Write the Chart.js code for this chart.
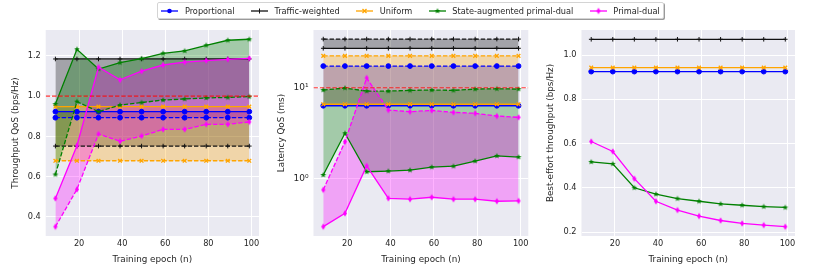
<!DOCTYPE html>
<html>
<head>
<meta charset="utf-8">
<script src="https://cdn.jsdelivr.net/npm/chart.js@4.4.0/dist/chart.umd.min.js"></script>
<style>
html, body { margin: 0; padding: 0; background: #fff; }
body { width: 830px; height: 277px; position: relative; overflow: hidden; font-family: "DejaVu Sans"; }
canvas.panel { position: absolute; top: 0; }
#legend {
    position: absolute; left: 157px; top: 2px; height: 17px;
    padding: 0 3.3px; box-sizing: border-box;
    display: flex; align-items: center;
    background: #fff; border: 1px solid #d4d4d4; border-radius: 2px;
    box-shadow: 1px 1px 0 #9a9a9a;
    font-size: 8.2px; color: #262626; white-space: nowrap; z-index: 2;
}
#legend .item { display: flex; align-items: center; margin-right: 16.4px; }
#legend .item:last-child { margin-right: 0; }
#legend canvas { margin-right: 6.6px; }
</style>
</head>
<body>
<div id="legend"></div>
<canvas class="panel" id="qos_thr" width="270" height="277" style="left:0px"></canvas>
<canvas class="panel" id="qos_lat" width="270" height="277" style="left:270px"></canvas>
<canvas class="panel" id="be_thr" width="290" height="277" style="left:540px"></canvas>
<script>
// Training curves, three panels

var epochs = [9, 19, 29, 39, 49, 59, 69, 79, 89, 99];
var xTicks = [20, 40, 60, 80, 100];
var methods = ["Proportional", "Traffic-weighted", "Uniform", "State-augmented primal-dual", "Primal-dual"];

// throughput QoS (bps/Hz): solid line / dashed line per method
var thrPropSolid = [0.923, 0.923, 0.923, 0.923, 0.923, 0.923, 0.923, 0.923, 0.923, 0.923];
var thrPropDash = [0.893, 0.893, 0.893, 0.893, 0.893, 0.893, 0.893, 0.893, 0.893, 0.893];
var thrTrafSolid = [1.185, 1.185, 1.185, 1.185, 1.185, 1.185, 1.185, 1.185, 1.185, 1.185];
var thrTrafDash = [0.752, 0.752, 0.752, 0.752, 0.752, 0.752, 0.752, 0.752, 0.752, 0.752];
var thrUnifSolid = [0.948, 0.948, 0.948, 0.948, 0.948, 0.948, 0.948, 0.948, 0.948, 0.948];
var thrUnifDash = [0.679, 0.679, 0.679, 0.679, 0.679, 0.679, 0.679, 0.679, 0.679, 0.679];
var thrStateSolid = [0.961, 1.233, 1.135, 1.167, 1.187, 1.213, 1.225, 1.253, 1.278, 1.283];
var thrStateDash = [0.611, 0.973, 0.923, 0.956, 0.968, 0.981, 0.986, 0.991, 0.994, 0.998];
var thrPdSolid = [0.492, 0.754, 1.144, 1.081, 1.124, 1.155, 1.169, 1.177, 1.183, 1.188];
var thrPdDash = [0.351, 0.537, 0.812, 0.776, 0.802, 0.835, 0.835, 0.86, 0.86, 0.872];
var thrTarget = 1.0;
var thrTicks = [0.4, 0.6, 0.8, 1.0, 1.2];

// latency QoS (ms)
var latPropSolid = [6.35, 6.35, 6.35, 6.35, 6.35, 6.35, 6.35, 6.35, 6.35, 6.35];
var latPropDash = [17.3, 17.3, 17.3, 17.3, 17.3, 17.3, 17.3, 17.3, 17.3, 17.3];
var latTrafSolid = [27.1, 27.1, 27.1, 27.1, 27.1, 27.1, 27.1, 27.1, 27.1, 27.1];
var latTrafDash = [34.2, 34.2, 34.2, 34.2, 34.2, 34.2, 34.2, 34.2, 34.2, 34.2];
var latUnifSolid = [6.6, 6.6, 6.6, 6.6, 6.6, 6.6, 6.6, 6.6, 6.6, 6.6];
var latUnifDash = [22.4, 22.4, 22.4, 22.4, 22.4, 22.4, 22.4, 22.4, 22.4, 22.4];
var latStateSolid = [1.106, 3.17, 1.2, 1.22, 1.25, 1.35, 1.38, 1.57, 1.79, 1.74];
var latStateDash = [9.44, 9.93, 9.2, 9.2, 9.37, 9.44, 9.37, 9.67, 9.75, 9.67];
var latPdSolid = [0.3, 0.42, 1.39, 0.614, 0.6, 0.63, 0.6, 0.6, 0.57, 0.575];
var latPdDash = [0.76, 2.56, 12.8, 5.7, 5.46, 5.65, 5.37, 5.25, 4.9, 4.74];
var latTarget = 10;
var latTicks = [1, 10];

// best-effort throughput (bps/Hz)
var bePropData = [0.925, 0.925, 0.925, 0.925, 0.925, 0.925, 0.925, 0.925, 0.925, 0.925];
var beTrafData = [1.071, 1.071, 1.071, 1.071, 1.071, 1.071, 1.071, 1.071, 1.071, 1.071];
var beUnifData = [0.943, 0.943, 0.943, 0.943, 0.943, 0.943, 0.943, 0.943, 0.943, 0.943];
var beStateData = [0.517, 0.508, 0.4, 0.371, 0.351, 0.339, 0.327, 0.321, 0.315, 0.311];
var bePdData = [0.609, 0.564, 0.441, 0.339, 0.299, 0.272, 0.252, 0.239, 0.231, 0.224];
var beTicks = [0.2, 0.4, 0.6, 0.8, 1.0];

var X_MIN = 4.5, X_MAX = 103.5;
var FONT = "DejaVu Sans";
var TXT = "#262626";
var DASH = [4.4, 1.9];

function starMarker(color, r) {
    var c = document.createElement("canvas");
    var s = Math.ceil(r * 2 + 2);
    c.width = s; c.height = s;
    var g = c.getContext("2d");
    g.fillStyle = color;
    g.beginPath();
    for (var i = 0; i < 10; i++) {
        var rr = i % 2 ? r * 0.45 : r;
        var a = -Math.PI / 2 + i * Math.PI / 5;
        g.lineTo(s / 2 + rr * Math.cos(a), s / 2 + rr * Math.sin(a));
    }
    g.closePath();
    g.fill();
    return c;
}

function diamondMarker(color, w, h) {
    var c = document.createElement("canvas");
    c.width = Math.ceil(w + 2); c.height = Math.ceil(h + 2);
    var g = c.getContext("2d");
    var cx = c.width / 2, cy = c.height / 2;
    g.fillStyle = color;
    g.beginPath();
    g.moveTo(cx, cy - h / 2);
    g.lineTo(cx + w / 2, cy);
    g.lineTo(cx, cy + h / 2);
    g.lineTo(cx - w / 2, cy);
    g.closePath();
    g.fill();
    return c;
}

var styles = [
    { color: "#0000ff", fill: "rgba(0,0,255,0.3)", marker: "circle", radius: 2.4, bw: 1 },
    { color: "#111111", fill: "rgba(0,0,0,0.3)", marker: "cross", radius: 2.3, bw: 1 },
    { color: "#ffa500", fill: "rgba(255,165,0,0.3)", marker: "crossRot", radius: 2.6, bw: 1.3 },
    { color: "#008000", fill: "rgba(0,128,0,0.3)", marker: starMarker("#008000", 3), radius: 3, bw: 1 },
    { color: "#ff00ff", fill: "rgba(255,0,255,0.3)", marker: diamondMarker("#ff00ff", 4, 6.5), radius: 3, bw: 1 }
];

function pts(ys) {
    return epochs.map(function (x, i) { return { x: x, y: ys[i] }; });
}

function line(k, ys, dashed) {
    var st = styles[k];
    return {
        label: methods[k],
        data: pts(ys),
        borderColor: st.color,
        backgroundColor: st.color,
        borderWidth: 1.3,
        borderDash: dashed ? DASH : [],
        pointStyle: st.marker,
        pointRadius: st.radius,
        pointBorderWidth: st.bw,
        pointBackgroundColor: st.color,
        pointBorderColor: st.color,
        fill: false,
        tension: 0,
        order: 5 - k
    };
}

function bandSets(pairs) {
    var out = [];
    pairs.forEach(function (p, k) {
        var a = line(k, p[0], false);
        a.fill = { target: out.length + 1, above: styles[k].fill, below: styles[k].fill };
        out.push(a);
        out.push(line(k, p[1], true));
    });
    return out;
}

function threshold(v) {
    return {
        label: "target",
        data: [{ x: X_MIN, y: v }, { x: X_MAX, y: v }],
        borderColor: "rgba(255,0,0,0.8)",
        borderWidth: 1.2,
        borderDash: DASH,
        pointRadius: 0,
        fill: false,
        order: 0
    };
}

var bgPlugin = {
    id: "bg",
    beforeDraw: function (chart) {
        var a = chart.chartArea, ctx = chart.ctx;
        ctx.save();
        ctx.fillStyle = "#eaeaf2";
        ctx.fillRect(a.left, a.top, a.right - a.left, a.bottom - a.top);
        ctx.restore();
    }
};

function xScale() {
    return {
        type: "linear",
        min: X_MIN,
        max: X_MAX,
        afterBuildTicks: function (s) { s.ticks = xTicks.map(function (v) { return { value: v }; }); },
        afterFit: function (s) { s.height = 41; },
        grid: { color: "#ffffff", lineWidth: 1, drawTicks: false },
        border: { display: false },
        ticks: { color: TXT, font: { family: FONT, size: 8.2 }, padding: 3, maxRotation: 0, autoSkip: false },
        title: { display: true, text: "Training epoch (n)", color: TXT, font: { family: FONT, size: 8.8 }, padding: { top: 0, bottom: 12.4 } }
    };
}

function yScale(opts) {
    return {
        type: opts.type || "linear",
        min: opts.min,
        max: opts.max,
        afterBuildTicks: function (s) { s.ticks = opts.ticks.map(function (v) { return { value: v }; }); },
        afterFit: function (s) { s.width = opts.width; },
        grid: { color: "#ffffff", lineWidth: 1, drawTicks: false },
        border: { display: false },
        ticks: { color: TXT, font: { family: FONT, size: opts.tickSize || 8.2 }, padding: 5, autoSkip: false, callback: opts.fmt },
        title: { display: true, text: opts.title, color: TXT, font: { family: FONT, size: 8.8 }, padding: { top: opts.titlePad, bottom: 0 } }
    };
}

function makeChart(id, datasets, y, padRight) {
    return new Chart(id, {
        type: "line",
        data: { datasets: datasets },
        options: {
            responsive: false,
            animation: false,
            events: [],
            parsing: false,
            layout: { padding: { top: 30, left: 0, right: padRight, bottom: 0 } },
            scales: { x: xScale(), y: yScale(y) },
            plugins: {
                legend: { display: false },
                tooltip: { enabled: false },
                filler: { drawTime: "beforeDatasetsDraw" }
            }
        },
        plugins: [bgPlugin]
    });
}

var fmt1 = function (v) { return Number(v).toFixed(1); };

var thrSets = bandSets([
    [thrPropSolid, thrPropDash],
    [thrTrafSolid, thrTrafDash],
    [thrUnifSolid, thrUnifDash],
    [thrStateSolid, thrStateDash],
    [thrPdSolid, thrPdDash]
]);
thrSets.push(threshold(thrTarget));
makeChart("qos_thr", thrSets, {
    min: 0.305, max: 1.329, ticks: thrTicks, width: 45.7, fmt: fmt1,
    title: "Throughput QoS (bps/Hz)", titlePad: 10.7
}, 11);

var latSets = bandSets([
    [latPropSolid, latPropDash],
    [latTrafSolid, latTrafDash],
    [latUnifSolid, latUnifDash],
    [latStateSolid, latStateDash],
    [latPdSolid, latPdDash]
]);
latSets.push(threshold(latTarget));
makeChart("qos_lat", latSets, {
    type: "logarithmic", min: 0.237, max: 43, ticks: latTicks, width: 43.5, tickSize: 9,
    fmt: function (v) { return v === 1 ? "10\u2070" : "10\u00b9"; },
    title: "Latency QoS (ms)", titlePad: 6.4
}, 11.7);

var beSets = [
    line(0, bePropData, false),
    line(1, beTrafData, false),
    line(2, beUnifData, false),
    line(3, beStateData, false),
    line(4, bePdData, false)
];
makeChart("be_thr", beSets, {
    min: 0.182, max: 1.113, ticks: beTicks, width: 41.5, fmt: fmt1,
    title: "Best-effort throughput (bps/Hz)", titlePad: 5.7
}, 35);

// legend
var legend = document.getElementById("legend");
methods.forEach(function (name, k) {
    var st = styles[k];
    var item = document.createElement("div");
    item.className = "item";
    var ic = document.createElement("canvas");
    ic.width = 17; ic.height = 10;
    var g = ic.getContext("2d");
    g.strokeStyle = st.color; g.fillStyle = st.color; g.lineWidth = 1.3;
    g.beginPath(); g.moveTo(0, 5); g.lineTo(17, 5); g.stroke();
    var cx = 8.5, cy = 5;
    if (st.marker === "circle") {
        g.beginPath(); g.arc(cx, cy, 2.3, 0, Math.PI * 2); g.fill();
    } else if (st.marker === "cross") {
        g.lineWidth = 1;
        g.beginPath(); g.moveTo(cx, cy - 2.5); g.lineTo(cx, cy + 2.5); g.stroke();
    } else if (st.marker === "crossRot") {
        g.beginPath();
        g.moveTo(cx - 2, cy - 2); g.lineTo(cx + 2, cy + 2);
        g.moveTo(cx + 2, cy - 2); g.lineTo(cx - 2, cy + 2);
        g.stroke();
    } else {
        g.drawImage(st.marker, cx - st.marker.width / 2, cy - st.marker.height / 2);
    }
    var t = document.createElement("span");
    t.textContent = name;
    item.appendChild(ic);
    item.appendChild(t);
    legend.appendChild(item);
});
</script>
</body>
</html>
